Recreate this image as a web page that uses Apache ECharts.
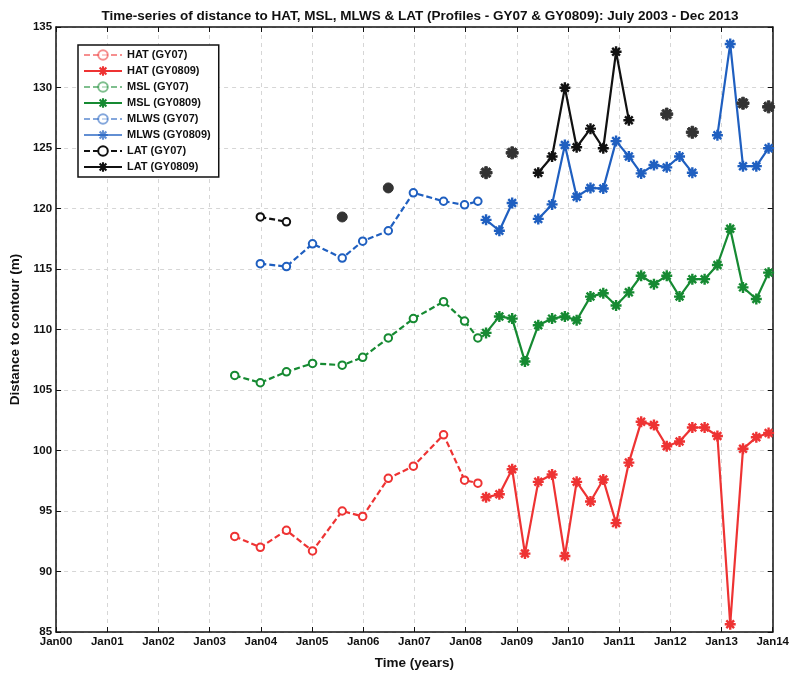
<!DOCTYPE html>
<html>
<head>
<meta charset="utf-8">
<script src="https://cdn.jsdelivr.net/npm/echarts@6/dist/echarts.min.js"></script>
<style>
html,body{margin:0;padding:0;background:#fff;}
#chart{width:792px;height:675px;}
</style>
</head>
<body>
<div id="chart"></div>
<script>
// ---- Data (decimal years, metres) ----
var datesGY07 = [2003.49, 2003.99, 2004.50, 2005.01, 2005.59, 2005.99, 2006.49, 2006.98, 2007.57, 2007.98, 2008.24];
var hatGY07  = [92.9, 92.0, 93.4, 91.7, 95.0, 94.55, 97.7, 98.7, 101.3, 97.55, 97.3];
var mslGY07  = [106.2, 105.6, 106.5, 107.2, 107.05, 107.7, 109.3, 110.9, 112.3, 110.7, 109.3];
var mlwsGY07 = [null, 115.44, 115.2, 117.08, 115.9, 117.3, 118.16, 121.3, 120.6, 120.3, 120.6];
var latGY07  = [null, 119.3, 118.9, null, 119.3, null, 121.7, null, null, null, null];

var datesGY0809 = [2008.40, 2008.66, 2008.91, 2009.16, 2009.42, 2009.69, 2009.94, 2010.17, 2010.44, 2010.69, 2010.94, 2011.19, 2011.43, 2011.68, 2011.93, 2012.18, 2012.43, 2012.67, 2012.92, 2013.17, 2013.42, 2013.68, 2013.92];
var hatGY0809  = [96.14, 96.38, 98.45, 91.48, 97.41, 98.01, 91.28, 97.41, 95.78, 97.6, 94.0, 99.0, 102.37, 102.1, 100.35, 100.74, 101.9, 101.9, 101.2, 85.64, 100.14, 101.09, 101.45];
var mslGY0809  = [109.72, 111.08, 110.9, 107.35, 110.35, 110.9, 111.08, 110.76, 112.72, 112.99, 111.98, 113.07, 114.44, 113.75, 114.44, 112.72, 114.16, 114.16, 115.33, 118.33, 113.48, 112.52, 114.7];
var mlwsGY0809 = [119.06, 118.16, 120.45, null, 119.14, 120.34, 125.25, 120.97, 121.7, 121.65, 125.57, 124.3, 122.9, 123.6, 123.4, 124.3, 122.96, null, 126.06, 133.6, 123.5, 123.5, 124.98];
var latGY0809  = [122.96, null, 124.6, null, 122.96, 124.3, 129.98, 125.06, 126.6, 124.98, 132.95, 127.3, null, null, 127.8, null, 126.3, null, null, null, 128.7, null, 128.4];

var xTickYears = [2000, 2014];
var yRange = [85, 135];

// ---- Styling ----
var RED = '#ee3333', GREEN = '#168a32', BLUE = '#1f5fc0', BLACK = '#111111';
var FONT = 'Liberation Sans, Arial, sans-serif';
var ASTERISK = 'path://M-2.2,-10L2.2,-10L2.2,10L-2.2,10Z M-10,-2.2L10,-2.2L10,2.2L-10,2.2Z M-5.5,-8.6L8.6,5.5L5.5,8.6L-8.6,-5.5Z M-8.6,5.5L5.5,-8.6L8.6,-5.5L-5.5,8.6Z';

function build(dates, vals, isolatedStyle) {
  return dates.map(function (d, i) {
    var v = vals[i];
    if (v == null) return [d, '-'];
    var prevNull = (i === 0) || vals[i - 1] == null;
    var nextNull = (i === vals.length - 1) || vals[i + 1] == null;
    if (isolatedStyle && prevNull && nextNull) {
      return { value: [d, v], symbol: isolatedStyle.symbol, symbolSize: isolatedStyle.size,
               itemStyle: { color: '#333', borderColor: '#333', borderWidth: 1 } };
    }
    return [d, v];
  });
}

function gy07(name, color, dates, vals, iso) {
  return {
    name: name, type: 'line', data: build(dates, vals, iso),
    symbol: 'emptyCircle', symbolSize: 7.5,
    lineStyle: { color: color, width: 2.2, type: [6, 3] },
    itemStyle: { color: color, borderColor: color, borderWidth: 2.2 },
    emphasis: { disabled: true }, connectNulls: false, animation: false
  };
}
function gy0809(name, color, dates, vals, iso) {
  return {
    name: name, type: 'line', data: build(dates, vals, iso),
    symbol: ASTERISK, symbolSize: 11,
    lineStyle: { color: color, width: 2.2 },
    itemStyle: { color: color, borderColor: color, borderWidth: 0 },
    emphasis: { disabled: true }, connectNulls: false, animation: false
  };
}

var chart = echarts.init(document.getElementById('chart'), null, { renderer: 'canvas' });

var axisLabelStyle = { fontFamily: FONT, fontWeight: 'bold', fontSize: 11.5, color: '#111' };
var gridLine = { show: true, lineStyle: { color: '#d6d6d6', type: [4, 4], width: 1 } };

chart.setOption({
  backgroundColor: '#fff',
  animation: false,
  title: {
    text: 'Time-series of distance to HAT, MSL, MLWS & LAT (Profiles - GY07 & GY0809): July 2003 - Dec 2013',
    left: 415, top: 4, textAlign: 'center',
    textStyle: { fontFamily: FONT, fontWeight: 'bold', fontSize: 13.5, color: '#111' }
  },
  grid: { left: 53, right: 15, top: 27, bottom: 37, containLabel: false },
  legend: {
    orient: 'vertical', left: 78, top: 45,
    backgroundColor: '#fff', borderColor: '#111', borderWidth: 1.5,
    padding: [4, 8, 4, 5], itemGap: 4, itemWidth: 38, itemHeight: 12,
    textStyle: { fontFamily: FONT, fontWeight: 'bold', fontSize: 11, color: '#111', lineHeight: 12 },
    data: [
      { name: 'HAT (GY07)', itemStyle: { opacity: 0.55 }, lineStyle: { opacity: 0.55 } },
      { name: 'HAT (GY0809)' },
      { name: 'MSL (GY07)', itemStyle: { opacity: 0.55 }, lineStyle: { opacity: 0.55 } },
      { name: 'MSL (GY0809)' },
      { name: 'MLWS (GY07)', itemStyle: { opacity: 0.55 }, lineStyle: { opacity: 0.55 } },
      { name: 'MLWS (GY0809)', itemStyle: { opacity: 0.7 }, lineStyle: { opacity: 0.7 } },
      { name: 'LAT (GY07)' },
      { name: 'LAT (GY0809)' }
    ],
    selectedMode: false
  },
  xAxis: [{
    type: 'value', min: xTickYears[0], max: xTickYears[1], interval: 1,
    name: 'Time (years)', nameLocation: 'middle', nameGap: 24,
    nameTextStyle: { fontFamily: FONT, fontWeight: 'bold', fontSize: 13.5, color: '#111' },
    axisLine: { show: true, onZero: false, lineStyle: { color: '#111', width: 1.5 } },
    axisTick: { show: true, inside: true, length: 5, lineStyle: { color: '#111' } },
    axisLabel: Object.assign({ margin: 4, formatter: function (v) { return 'Jan' + String(Math.round(v) % 100).padStart(2, '0'); } }, axisLabelStyle),
    splitLine: gridLine
  }, {
    type: 'value', position: 'top', min: xTickYears[0], max: xTickYears[1], interval: 1,
    axisLine: { show: true, onZero: false, lineStyle: { color: '#111', width: 1.5 } },
    axisTick: { show: true, inside: true, length: 5, lineStyle: { color: '#111' } },
    axisLabel: { show: false }, splitLine: { show: false }
  }],
  yAxis: [{
    type: 'value', min: yRange[0], max: yRange[1], interval: 5,
    name: 'Distance to contour (m)', nameLocation: 'middle', nameGap: 30,
    nameTextStyle: { fontFamily: FONT, fontWeight: 'bold', fontSize: 13.5, color: '#111' },
    axisLine: { show: true, onZero: false, lineStyle: { color: '#111', width: 1.5 } },
    axisTick: { show: true, inside: true, length: 5, lineStyle: { color: '#111' } },
    axisLabel: Object.assign({ margin: 4 }, axisLabelStyle),
    splitLine: gridLine
  }, {
    type: 'value', position: 'right', min: yRange[0], max: yRange[1], interval: 5,
    axisLine: { show: true, onZero: false, lineStyle: { color: '#111', width: 1.5 } },
    axisTick: { show: true, inside: true, length: 5, lineStyle: { color: '#111' } },
    axisLabel: { show: false }, splitLine: { show: false }
  }],
  series: [
    gy07('HAT (GY07)', RED, datesGY07, hatGY07),
    gy0809('HAT (GY0809)', RED, datesGY0809, hatGY0809),
    gy07('MSL (GY07)', GREEN, datesGY07, mslGY07),
    gy0809('MSL (GY0809)', GREEN, datesGY0809, mslGY0809),
    gy07('MLWS (GY07)', BLUE, datesGY07, mlwsGY07),
    gy0809('MLWS (GY0809)', BLUE, datesGY0809, mlwsGY0809),
    gy07('LAT (GY07)', BLACK, datesGY07, latGY07, { symbol: 'circle', size: 10 }),
    gy0809('LAT (GY0809)', BLACK, datesGY0809, latGY0809, { symbol: ASTERISK, size: 12 })
  ]
});
</script>
</body>
</html>
